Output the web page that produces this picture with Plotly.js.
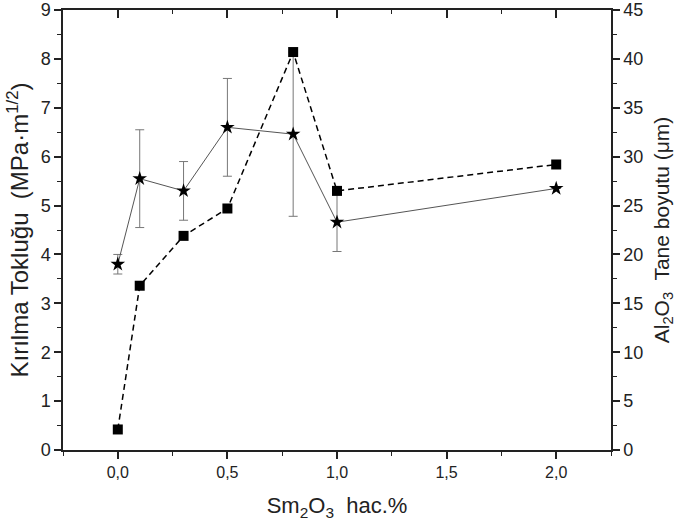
<!DOCTYPE html>
<html>
<head>
<meta charset="utf-8">
<script src="https://cdn.plot.ly/plotly-3.0.1.min.js"></script>
<style>
  html, body { margin:0; padding:0; background:#fff; }
  #chart { width:685px; height:524px; }
</style>
</head>
<body>
<div id="chart"></div>
<script>
/* ==========================================
   DATA
========================================== */

const smContent = [0.0, 0.1, 0.3, 0.5, 0.8, 1.0, 2.0];

// Kırılma tokluğu (left axis) with error
const toughness = [3.8, 5.55, 5.3, 6.6, 6.46, 4.66, 5.35];
const toughnessErr = [0.2, 1.0, 0.6, 1.0, 1.68, 0.6, 0];

// Al2O3 tane boyutu (right axis)
const grainSize = [2.1, 16.8, 21.9, 24.7, 40.7, 26.5, 29.2];

const fontFam = "Liberation Sans, Arial, sans-serif";

/* ==========================================
   TRACES
========================================== */

const toughTrace = {
    x: smContent,
    y: toughness,
    type: "scatter",
    mode: "lines+markers",
    line: { color: "#555", width: 1 },
    marker: { symbol: "star", size: 11, color: "#000" },
    error_y: {
        type: "data",
        array: toughnessErr,
        visible: true,
        color: "#777",
        thickness: 1,
        width: 4.5
    },
    cliponaxis: false,
    showlegend: false
};

const grainTrace = {
    x: smContent,
    y: grainSize,
    yaxis: "y2",
    type: "scatter",
    mode: "lines+markers",
    line: { color: "#000", width: 1.5, dash: "6px,4px" },
    marker: { symbol: "square", size: 10, color: "#000" },
    cliponaxis: false,
    showlegend: false
};

// dummy trace to carry the top axis
const topTrace = {
    x: [0], y: [0], xaxis: "x2", yaxis: "y",
    mode: "markers", marker: { opacity: 0 },
    hoverinfo: "skip", showlegend: false
};

/* ==========================================
   LAYOUT
========================================== */

const axisLine = { showline: true, linecolor: "#222", linewidth: 1.5, zeroline: false, showgrid: false };

const layout = {
    width: 685,
    height: 524,
    margin: { l: 63, r: 74, t: 10, b: 74 },
    paper_bgcolor: "#fff",
    plot_bgcolor: "#fff",
    separators: ", ",
    font: { family: fontFam, color: "#222", size: 17 },
    xaxis: Object.assign({}, axisLine, {
        range: [-0.25, 2.25],
        tick0: 0, dtick: 0.5,
        tickformat: ".1f",
        ticks: "outside", ticklen: 7, tickwidth: 1.5, tickcolor: "#222",
        minor: { dtick: 0.25, tick0: 0, ticks: "outside", ticklen: 4, tickwidth: 1.2, tickcolor: "#222" },
        tickfont: { size: 16 },
        title: { text: "Sm<sub>2</sub>O<sub>3</sub>  hac.%", font: { size: 22 }, standoff: 18 }
    }),
    xaxis2: Object.assign({}, axisLine, {
        overlaying: "x",
        side: "top",
        range: [-0.25, 2.25],
        tick0: 0, dtick: 0.5,
        showticklabels: false,
        ticks: "inside", ticklen: 8, tickwidth: 1.5, tickcolor: "#222",
        minor: { dtick: 0.25, tick0: 0, ticks: "inside", ticklen: 4, tickwidth: 1.2, tickcolor: "#222" }
    }),
    yaxis: Object.assign({}, axisLine, {
        range: [0, 9],
        tick0: 0, dtick: 1,
        ticks: "outside", ticklen: 7, tickwidth: 1.5, tickcolor: "#222",
        minor: { dtick: 0.5, ticks: "outside", ticklen: 4, tickwidth: 1.2, tickcolor: "#222" },
        tickfont: { size: 18 },
        ticklabeloverflow: "allow",
        title: { text: "Kırılma Tokluğu  (MPa·m<sup>1/2</sup>)", font: { size: 24 }, standoff: 5 }
    }),
    yaxis2: Object.assign({}, axisLine, {
        overlaying: "y",
        side: "right",
        range: [0, 45],
        tick0: 0, dtick: 5,
        ticks: "outside", ticklen: 7, tickwidth: 1.5, tickcolor: "#222",
        minor: { dtick: 2.5, ticks: "outside", ticklen: 4, tickwidth: 1.2, tickcolor: "#222" },
        tickfont: { size: 18 },
        ticklabeloverflow: "allow",
        title: { text: "Al<sub>2</sub>O<sub>3</sub>  Tane boyutu (μm)", font: { size: 21 }, standoff: 12 }
    })
};

Plotly.newPlot("chart", [toughTrace, grainTrace, topTrace], layout, { displayModeBar: false, responsive: false });
</script>
</body>
</html>
